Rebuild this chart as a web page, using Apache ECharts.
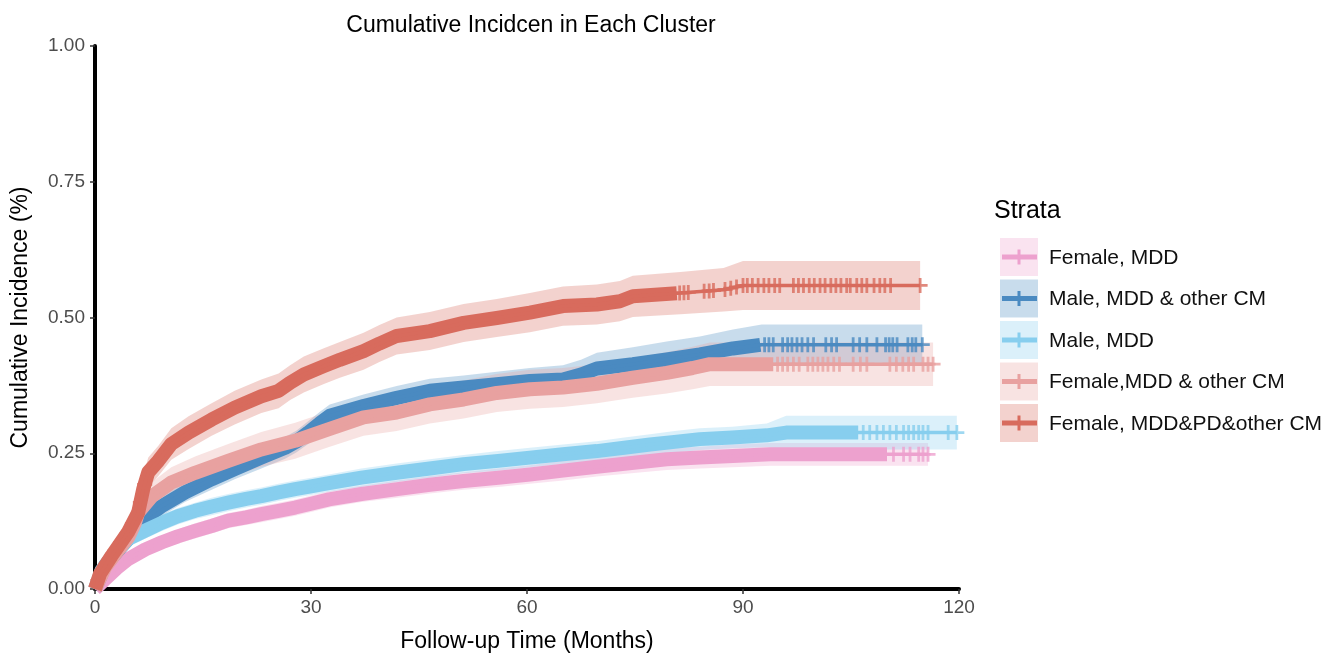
<!DOCTYPE html>
<html>
<head>
<meta charset="utf-8">
<script src="https://cdn.jsdelivr.net/npm/echarts@6/dist/echarts.min.js"></script>
<style>
html, body { margin: 0; padding: 0; background: #fff; }
#chart { width: 1338px; height: 658px; }
</style>
</head>
<body>
<div id="chart"></div>
<script>
var names = ['Female, MDD', 'Male, MDD & other CM', 'Male, MDD', 'Female,MDD & other CM', 'Female, MDD&PD&other CM'];
var colors = ['#EDA1CE', '#4A8AC1', '#87CEEE', '#E8A1A0', '#D86B5D'];

var xTicks = [0, 30, 60, 90, 120];
var yTicks = [0, 0.25, 0.5, 0.75, 1];

// Female, MDD
var tPink = [0, 1.4, 3, 4.6, 7, 9.3, 11.5, 13.9, 16.2, 18.5, 21, 23.1, 25.5, 27.8, 30, 32.5, 37, 42, 46.5, 51.2, 56, 60.4, 65, 69.7, 74.5, 79.4, 84, 88.6, 93.8, 115.7];
var vPink = [0, .018, .038, .055, .073, .086, .097, .107, .116, .126, .132, .138, .144, .150, .157, .165, .175, .184, .192, .199, .205, .211, .218, .225, .232, .239, .242, .245, .248, .248];
var ciPink = [0, .006, .008, .01, .011, .012, .013, .014, .014, .014, .014, .015, .015, .015, .015, .015, .015, .016, .016, .016, .017, .017, .018, .018, .019, .02, .02, .021, .021, .021];
var densePink = 110;
var censorPink = [110.9, 112.3, 113.2, 114.4, 115, 115.7];

// Male, MDD & other CM
var tBlue = [0, 1.4, 3, 4.6, 6.9, 9.3, 12.5, 16.2, 19.4, 23.1, 26.4, 28, 29.6, 31.2, 32.6, 37.3, 41.9, 46.5, 51.2, 55.8, 60.4, 65, 67.5, 69.7, 74.7, 79.4, 84, 88.6, 92.6, 114.9];
var vBlue = [0, .043, .068, .092, .129, .153, .178, .202, .221, .242, .260, .272, .288, .305, .319, .337, .352, .365, .371, .377, .383, .386, .395, .406, .414, .423, .432, .443, .450, .450];
var ciBlue = [0, .012, .014, .016, .017, .018, .018, .019, .019, .02, .02, .02, .021, .021, .021, .021, .022, .022, .022, .023, .024, .026, .027, .029, .031, .033, .033, .035, .037, .037];
var denseBlue = 92.4;
var censorBlue = [93, 93.6, 94.2, 95.5, 96.2, 96.8, 97.5, 98.2, 99, 99.8, 101.5, 102.3, 103, 105.3, 106.2, 107.2, 108.6, 109.8, 110.3, 110.8, 111.4, 112.9, 113.5, 114, 114.9];

// Male, MDD
var tSky = [0, 0.9, 2.8, 4.6, 6.9, 9.3, 11.5, 13.9, 16.2, 18.5, 21, 23.1, 25.5, 27.8, 30, 32.5, 37, 41.9, 46.5, 51.2, 56, 60.4, 65, 69.7, 73.5, 77.1, 80.5, 84, 88.5, 93.3, 96, 119.7];
var vSky = [0, .034, .067, .092, .107, .122, .134, .144, .152, .159, .166, .171, .178, .184, .189, .195, .205, .214, .222, .230, .236, .242, .248, .254, .260, .266, .271, .276, .279, .283, .288, .288];
var ciSky = [0, .008, .012, .014, .015, .015, .015, .015, .016, .016, .016, .016, .016, .016, .016, .016, .017, .017, .017, .017, .018, .018, .018, .018, .019, .019, .02, .02, .02, .022, .031, .031];
var denseSky = 106;
var censorSky = [106.7, 107.6, 108.6, 109.5, 110.4, 111.3, 112.3, 113, 113.7, 114.4, 115, 115.7, 118.5, 119.7];

// Female,MDD & other CM
var tRose = [0, 1.4, 3, 4.6, 5.5, 6, 7.9, 10.6, 13.9, 18.5, 23.1, 27.8, 32.4, 37.3, 41.9, 46.5, 51.2, 55.8, 60.4, 65, 69.7, 74.7, 79.4, 83, 85.4, 116.4];
var vRose = [0, .04, .068, .095, .12, .141, .171, .196, .214, .236, .257, .273, .294, .316, .325, .340, .349, .361, .368, .371, .378, .389, .398, .407, .414, .414];
var ciRose = [0, .012, .016, .02, .022, .024, .026, .028, .03, .031, .032, .033, .033, .034, .034, .035, .035, .035, .036, .036, .036, .037, .038, .039, .04, .04];
var denseRose = 94.2;
var censorRose = [94.8, 95.5, 96.2, 97, 97.8, 99, 99.7, 100.4, 101.1, 101.8, 102.6, 103.4, 105.3, 106.3, 107.2, 110.4, 111.3, 112.2, 113, 113.7, 115, 115.7, 116.4];

// Female, MDD&PD&other CM
var tRed = [0, 0.7, 2.3, 4.6, 6, 6.7, 7.4, 8.8, 10.6, 13, 16.2, 19.4, 23.1, 25.5, 27.1, 29, 31.7, 34, 37.3, 39.5, 41.9, 46.5, 51.2, 55.8, 60.4, 65, 69.7, 72.9, 74.7, 81.3, 87.3, 90, 114.6];
var vRed = [0, .028, .061, .105, .141, .184, .215, .236, .267, .288, .312, .334, .355, .365, .38, .395, .41, .422, .438, .452, .466, .475, .49, .499, .509, .521, .524, .53, .539, .545, .551, .559, .559];
var ciRed = [0, .012, .018, .022, .024, .026, .027, .028, .029, .03, .03, .031, .031, .032, .032, .033, .033, .033, .034, .034, .034, .035, .035, .035, .036, .036, .037, .037, .038, .039, .04, .045, .045];
var denseRed = 80.8;
var censorRed = [0.4, 1.2, 2, 2.8, 3.6, 4.4, 5.2, 6.3, 6.9, 7.6, 8.4, 81.2, 81.8, 82.4, 84.6, 85.3, 85.9, 87.5, 88.3, 89.1, 90, 90.6, 91.3, 92.1, 92.9, 93.6, 94.4, 95.1, 97, 97.7, 98.4, 99.2, 99.9, 100.7, 101.4, 102.2, 102.9, 103.6, 104.4, 104.9, 105.8, 106.5, 107.2, 108.2, 109, 109.7, 110.5, 114.6];

var strata = [
    { t: tPink, v: vPink, ci: ciPink, dense: densePink, censor: censorPink },
    { t: tBlue, v: vBlue, ci: ciBlue, dense: denseBlue, censor: censorBlue },
    { t: tSky, v: vSky, ci: ciSky, dense: denseSky, censor: censorSky },
    { t: tRose, v: vRose, ci: ciRose, dense: denseRose, censor: censorRose },
    { t: tRed, v: vRed, ci: ciRed, dense: denseRed, censor: censorRed }
];

// curve value at time x (read along the sampled points)
function valueAt(ts, vs, x) {
    for (var i = 1; i < ts.length; i++) {
        if (x <= ts[i]) {
            var f = (x - ts[i - 1]) / (ts[i] - ts[i - 1]);
            return vs[i - 1] + f * (vs[i] - vs[i - 1]);
        }
    }
    return vs[vs.length - 1];
}

var plus = 'path://M5.7,0h2.6v5.7h5.7v2.6h-5.7v5.7h-2.6v-5.7h-5.7v-2.6h5.7z';
var font = 'Liberation Sans, Arial, sans-serif';

var series = [];
// confidence bands first so they sit under every line
strata.forEach(function (s, k) {
    series.push({
        type: 'custom', silent: true, data: [[0, 0]],
        renderItem: function (params, api) {
            var pts = [];
            for (var i = 0; i < s.t.length; i++) pts.push(api.coord([s.t[i], s.v[i] + s.ci[i]]));
            for (var j = s.t.length - 1; j >= 0; j--) pts.push(api.coord([s.t[j], s.v[j] - s.ci[j]]));
            return { type: 'polygon', shape: { points: pts }, style: { fill: colors[k], opacity: 0.3 } };
        }
    });
});
strata.forEach(function (s, k) {
    // heavy censoring reads as a thick band of + marks
    var dense = [];
    s.t.forEach(function (t, i) { if (t < s.dense) dense.push([t, s.v[i]]); });
    dense.push([s.dense, valueAt(s.t, s.v, s.dense)]);
    series.push({
        name: names[k], type: 'line', symbol: 'none', silent: true,
        lineStyle: { color: colors[k], width: 14, cap: 'butt', join: 'round' },
        data: dense
    });
    series.push({
        type: 'line', symbol: 'none', silent: true,
        lineStyle: { color: colors[k], width: 3.5 },
        data: s.t.map(function (t, i) { return [t, s.v[i]]; })
    });
    series.push({
        type: 'scatter', symbol: plus, symbolSize: [15, 15], silent: true,
        itemStyle: { color: colors[k] },
        data: s.censor.map(function (t) { return [t, valueAt(s.t, s.v, t)]; })
    });
});

var graphic = [{
    type: 'text', left: 994, top: 199,
    style: { text: 'Strata', font: '25px ' + font, fill: '#000' }
}];
names.forEach(function (n, i) {
    var y0 = 238 + i * 41.5;
    graphic.push({ type: 'rect', shape: { x: 1000, y: y0, width: 38, height: 38 }, style: { fill: colors[i], opacity: 0.3 } });
    graphic.push({ type: 'line', shape: { x1: 1002, y1: y0 + 19, x2: 1037, y2: y0 + 19 }, style: { stroke: colors[i], lineWidth: 5 } });
    graphic.push({ type: 'rect', shape: { x: 1017.5, y: y0 + 11.5, width: 3, height: 15 }, style: { fill: colors[i] } });
    graphic.push({ type: 'text', x: 1049, y: y0 + 20, style: { text: n, font: '21px ' + font, fill: '#111', verticalAlign: 'middle' } });
});

var myChart = echarts.init(document.getElementById('chart'));
var option = {
    animation: false,
    backgroundColor: '#fff',
    title: {
        text: 'Cumulative Incidcen in Each Cluster',
        left: 526, top: 9, textAlign: 'center',
        textStyle: { fontFamily: font, fontSize: 23, fontWeight: 'normal', color: '#000' }
    },
    grid: { left: 95, right: 379, top: 46, bottom: 68, containLabel: false },
    xAxis: {
        type: 'value', min: xTicks[0], max: xTicks[xTicks.length - 1], interval: 30,
        name: 'Follow-up Time (Months)', nameLocation: 'middle', nameGap: 41,
        nameTextStyle: { fontFamily: font, fontSize: 23, color: '#000' },
        axisLine: { show: true, lineStyle: { color: '#000', width: 4 } },
        axisTick: { show: true, length: 5, lineStyle: { color: '#333', width: 1.5 } },
        axisLabel: { color: '#4d4d4d', fontSize: 19, fontFamily: font, margin: 9 },
        splitLine: { show: false }
    },
    yAxis: {
        type: 'value', min: yTicks[0], max: yTicks[yTicks.length - 1], interval: 0.25,
        name: 'Cumulative Incidence (%)', nameLocation: 'middle', nameGap: 63,
        nameTextStyle: { fontFamily: font, fontSize: 23, color: '#000' },
        axisLine: { show: true, lineStyle: { color: '#000', width: 4 } },
        axisTick: { show: true, length: 5, lineStyle: { color: '#333', width: 1.5 } },
        axisLabel: {
            color: '#4d4d4d', fontSize: 19, fontFamily: font, margin: 10,
            formatter: function (v) { return v.toFixed(2); }
        },
        splitLine: { show: false }
    },
    graphic: graphic,
    series: series
};

option && myChart.setOption(option);
</script>
</body>
</html>
